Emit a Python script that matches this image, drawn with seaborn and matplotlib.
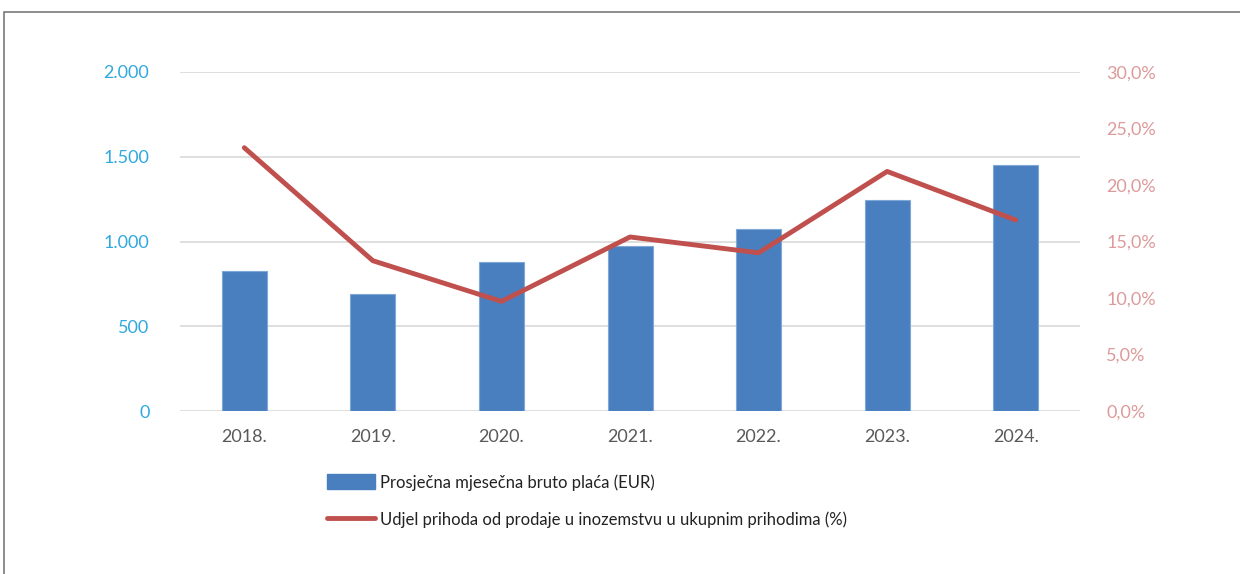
import matplotlib
matplotlib.use("Agg")
import matplotlib.pyplot as plt
from matplotlib.patches import Rectangle, Patch
from matplotlib.lines import Line2D
from matplotlib.ticker import FuncFormatter
import seaborn as sns
import pandas as pd

years = ["2018.", "2019.", "2020.", "2021.", "2022.", "2023.", "2024."]
avg_gross_salary = [828, 693, 882, 975, 1076, 1243, 1450]
export_share = [23.3, 13.3, 9.7, 15.4, 14.0, 21.2, 16.9]

salary_label = "Prosječna mjesečna bruto plaća (EUR)"
share_label = "Udjel prihoda od prodaje u inozemstvu u ukupnim prihodima (%)"

bar_color = "#4A7FBF"
line_color = "#C0504D"
left_tick_color = "#2EA8DF"
right_tick_color = "#DD9A9A"
grid_color = "#D9D9D9"

sns.set_theme(style="white")
plt.rcParams["font.family"] = ["Lato", "DejaVu Sans"]

df = pd.DataFrame({"year": years, "salary": avg_gross_salary, "share": export_share})

fig = plt.figure(figsize=(12.4, 5.74), dpi=100)
ax = fig.add_axes([180 / 1240, 1 - 411 / 574, 900 / 1240, 339 / 574])

sns.barplot(data=df, x="year", y="salary", order=years, color=bar_color,
            width=0.35, saturation=1, ax=ax, edgecolor="#7FA8D8", linewidth=0.8,
            zorder=2)
ax.set_xlim(-0.5, len(years) - 0.5)
ax.set_ylim(0, 2000)
ax.set_yticks([0, 500, 1000, 1500, 2000])
ax.yaxis.set_major_formatter(FuncFormatter(lambda v, p: f"{int(v):,}".replace(",", ".")))
ax.grid(axis="y", color=grid_color, linewidth=1.2, zorder=0)
ax.set_axisbelow(True)
ax.set_xlabel("")
ax.set_ylabel("")
for s in ax.spines.values():
    s.set_visible(False)
ax.tick_params(axis="y", length=0, pad=22, labelsize=13, labelcolor=left_tick_color)
ax.tick_params(axis="x", length=0, pad=13, labelsize=13, labelcolor="#595959")

ax2 = ax.twinx()
sns.lineplot(data=df, x="year", y="share", color=line_color, linewidth=3.5,
             ax=ax2, sort=False, zorder=3)
ax2.set_ylim(0, 30)
ax2.set_yticks([0, 5, 10, 15, 20, 25, 30])
ax2.yaxis.set_major_formatter(FuncFormatter(lambda v, p: f"{v:.1f}%".replace(".", ",")))
ax2.set_ylabel("")
ax2.set_xlabel("")
ax2.grid(False)
for s in ax2.spines.values():
    s.set_visible(False)
ax2.tick_params(axis="y", length=0, pad=19, labelsize=13, labelcolor=right_tick_color)
ax.set_xlim(-0.5, len(years) - 0.5)

handles = [Patch(facecolor=bar_color, edgecolor=bar_color),
           Line2D([0], [0], color=line_color, linewidth=3.5)]
fig.legend(handles, [salary_label, share_label], loc="upper left",
           bbox_to_anchor=(327 / 1240, 1 - 474 / 574), frameon=False,
           fontsize=12, handlelength=2.9, handleheight=1.0, handletextpad=0.25,
           labelspacing=1.25, borderaxespad=0, borderpad=0, labelcolor="#222222")

fig.patches.append(Rectangle((4 / 1240, -0.1), 2, 1.1 - 12 / 574,
                             transform=fig.transFigure, fill=False,
                             edgecolor="#6F6F6F", linewidth=1.1))

fig.savefig("out.png", dpi=100, facecolor="white")
